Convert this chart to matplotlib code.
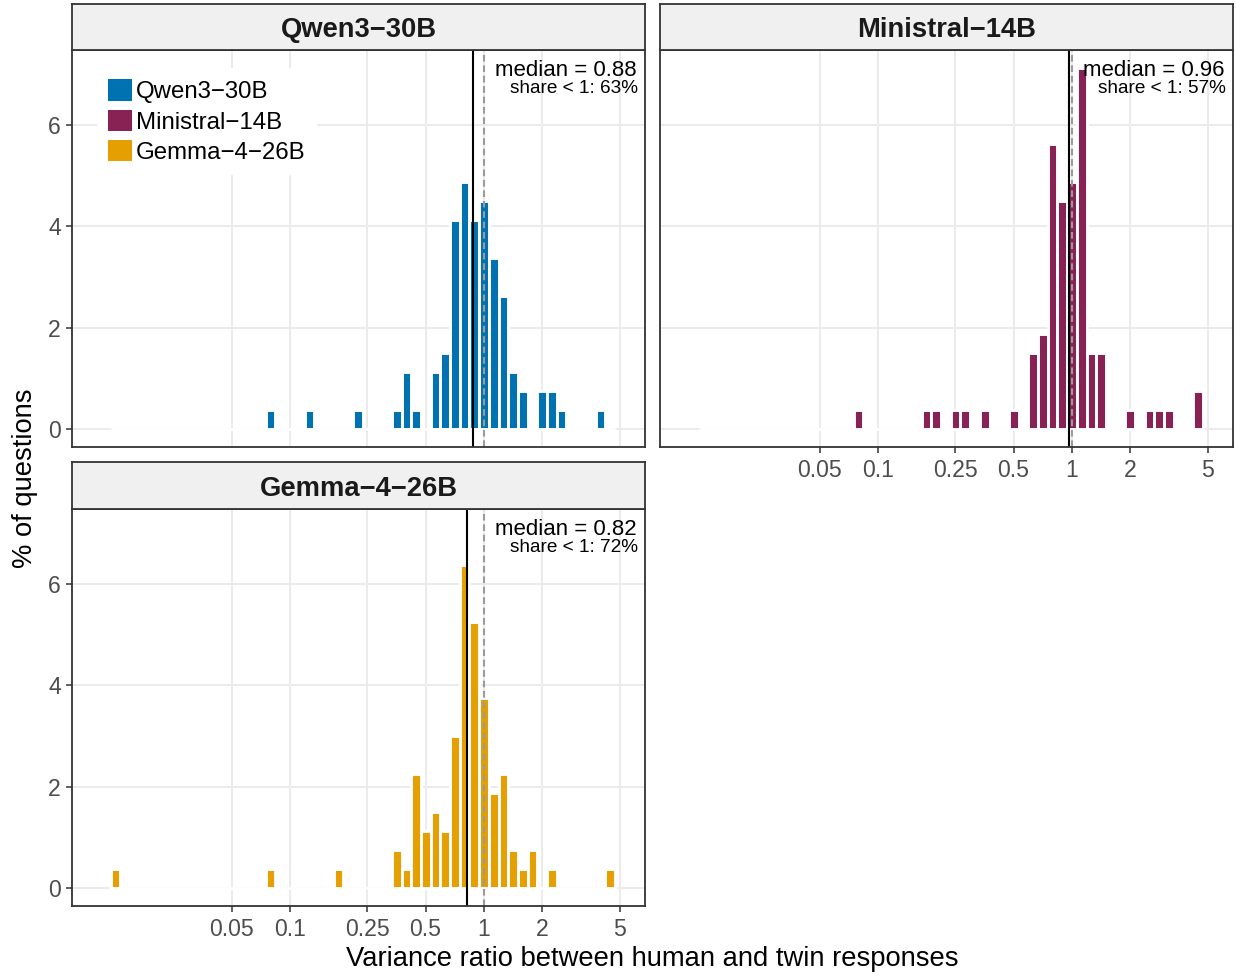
import numpy as np
import matplotlib
matplotlib.use("Agg")
import matplotlib.pyplot as plt
from matplotlib.patches import Patch
from matplotlib.ticker import FixedLocator, NullLocator, FixedFormatter

plt.rcParams['font.family'] = ['Liberation Sans', 'DejaVu Sans']

# ---------------- data ----------------
models = ["Qwen3−30B", "Ministral−14B", "Gemma−4−26B"]
colors = ["#0072B2", "#882255", "#E69F00"]

BIN_WIDTH_LOG10 = 0.05

qwen_bin_log10 = [-1.10, -0.90, -0.65, -0.45, -0.40, -0.35, -0.25, -0.20, -0.15, -0.10,
                  -0.05, 0.00, 0.05, 0.10, 0.15, 0.20, 0.30, 0.35, 0.40, 0.60]
qwen_counts = [1, 1, 1, 1, 3, 1, 3, 4, 11, 13, 11, 12, 9, 7, 3, 2, 2, 2, 1, 1]

ministral_bin_log10 = [-1.10, -0.75, -0.70, -0.60, -0.55, -0.45, -0.30, -0.20, -0.15, -0.10,
                       -0.05, 0.00, 0.05, 0.10, 0.15, 0.30, 0.40, 0.45, 0.50, 0.65]
ministral_counts = [1, 1, 1, 1, 1, 1, 1, 4, 5, 15, 12, 13, 19, 4, 4, 1, 1, 1, 1, 2]

gemma_bin_log10 = [-1.90, -1.10, -0.75, -0.45, -0.40, -0.35, -0.30, -0.25, -0.20, -0.15,
                   -0.10, -0.05, 0.00, 0.05, 0.10, 0.15, 0.20, 0.25, 0.35, 0.65]
gemma_counts = [1, 1, 1, 2, 1, 6, 3, 4, 3, 8, 17, 14, 10, 5, 6, 2, 1, 2, 1, 1]

medians = [0.88, 0.96, 0.82]
share_below_1 = [63, 57, 72]

x_ticks = [0.05, 0.1, 0.25, 0.5, 1, 2, 5]
x_tick_labels = ["0.05", "0.1", "0.25", "0.5", "1", "2", "5"]
y_ticks = [0, 2, 4, 6]
y_tick_labels = ["0", "2", "4", "6"]

bins = [qwen_bin_log10, ministral_bin_log10, gemma_bin_log10]
counts = [qwen_counts, ministral_counts, gemma_counts]

total = sum(sum(c) for c in counts)
pcts = [np.array(c) / total * 100 for c in counts]
ymax = max(p.max() for p in pcts)

all_centers = np.concatenate([np.array(b) for b in bins])
bin_lo = all_centers.min() - BIN_WIDTH_LOG10 / 2
bin_hi = all_centers.max() + BIN_WIDTH_LOG10 / 2
XLIM_LOG10 = (-2.124, 0.830)

# ---------------- layout ----------------
W, H = 1236, 976
fig = plt.figure(figsize=(W / 100, H / 100), dpi=100)
fig.patch.set_facecolor('white')


def fx(px):
    return px / W


def fy(py):
    return 1 - py / H


# x0, x1, panel top, panel bottom, strip top, show x labels, show y labels
layout = [
    (72, 645, 50, 447, 4, False, True),
    (660, 1233, 50, 447, 4, True, False),
    (72, 645, 509, 906, 462, True, True),
]

BORDER = '#333333'
GRID = '#EBEBEB'
TICKTXT = '#4D4D4D'

axes = []
for i, (x0, x1, yt, yb, ys, showx, showy) in enumerate(layout):
    ax = fig.add_axes([fx(x0), fy(yb), (x1 - x0) / W, (yb - yt) / H])
    axes.append(ax)
    ax.set_xscale('log')
    ax.set_xlim(10 ** XLIM_LOG10[0], 10 ** XLIM_LOG10[1])
    ax.set_ylim(-0.05 * ymax, 1.05 * ymax)
    ax.xaxis.set_major_locator(FixedLocator(x_ticks))
    ax.xaxis.set_major_formatter(FixedFormatter(x_tick_labels))
    ax.xaxis.set_minor_locator(NullLocator())
    ax.yaxis.set_major_locator(FixedLocator(y_ticks))
    ax.yaxis.set_major_formatter(FixedFormatter(y_tick_labels))
    ax.yaxis.set_minor_locator(NullLocator())
    ax.grid(True, which='major', color=GRID, lw=1.4, zorder=0)
    ax.set_axisbelow(True)
    for sp in ax.spines.values():
        sp.set_color(BORDER)
        sp.set_linewidth(1.3)
        sp.set_zorder(5)
    ax.tick_params(axis='x', which='major', bottom=showx, labelbottom=showx,
                   length=4, width=1.1, color=BORDER, labelsize=16.6,
                   labelcolor=TICKTXT, pad=4.5)
    ax.tick_params(axis='y', which='major', left=showy, labelleft=showy,
                   length=4, width=1.1, color=BORDER, labelsize=16.6,
                   labelcolor=TICKTXT, pad=4.0)

    # empty-bin white outline along zero
    ax.hlines(0, 10 ** bin_lo, 10 ** bin_hi, color='white', lw=2.0, zorder=1.5)

    c = np.array(bins[i])
    left = 10 ** (c - BIN_WIDTH_LOG10 / 2)
    right = 10 ** (c + BIN_WIDTH_LOG10 / 2)
    ax.bar(left, pcts[i], width=right - left, align='edge', color=colors[i],
           edgecolor='white', linewidth=2.1, zorder=2)

    ax.axvline(1, color='#9A9A9A', lw=1.5, ls=(0, (3.2, 1.8)), zorder=3)
    ax.axvline(medians[i], color='black', lw=1.5, zorder=3)

    ax.text(0.986, 0.935, f"median = {medians[i]:.2f}", transform=ax.transAxes,
            ha='right', va='baseline', fontsize=16, color='black', zorder=6)
    ax.text(0.988, 0.891, f"share < 1: {share_below_1[i]}%", transform=ax.transAxes,
            ha='right', va='baseline', fontsize=13.7, color='black', zorder=6)

    # strip
    sax = fig.add_axes([fx(x0), fy(yt), (x1 - x0) / W, (yt - ys) / H])
    sax.set_facecolor('#F0F0F0')
    sax.set_xticks([])
    sax.set_yticks([])
    for sp in sax.spines.values():
        sp.set_color(BORDER)
        sp.set_linewidth(1.3)
    sax.text(0.5, 0.43, models[i], transform=sax.transAxes, ha='center', va='center',
             fontsize=19.7, fontweight='bold', color='#1A1A1A')

# legend inside first panel
handles = [Patch(facecolor=c, edgecolor='none') for c in colors]
leg = axes[0].legend(handles, models, loc='upper left',
                     bbox_to_anchor=(fx(97), fy(68)), bbox_transform=fig.transFigure,
                     frameon=True, facecolor='white', edgecolor='none', framealpha=1,
                     fancybox=False, fontsize=17.3, handlelength=1.0, handleheight=1.0,
                     handletextpad=0.17, borderpad=0.46, labelspacing=0.27,
                     borderaxespad=0)
leg.set_zorder(7)

fig.text(fx(652.5), fy(959), "Variance ratio between human and twin responses",
         ha='center', va='center', fontsize=19.7, color='black')
fig.text(fx(25), fy(478), "% of questions", rotation=90,
         ha='center', va='center', fontsize=19.7, color='black')

fig.savefig("out.png", dpi=100)
